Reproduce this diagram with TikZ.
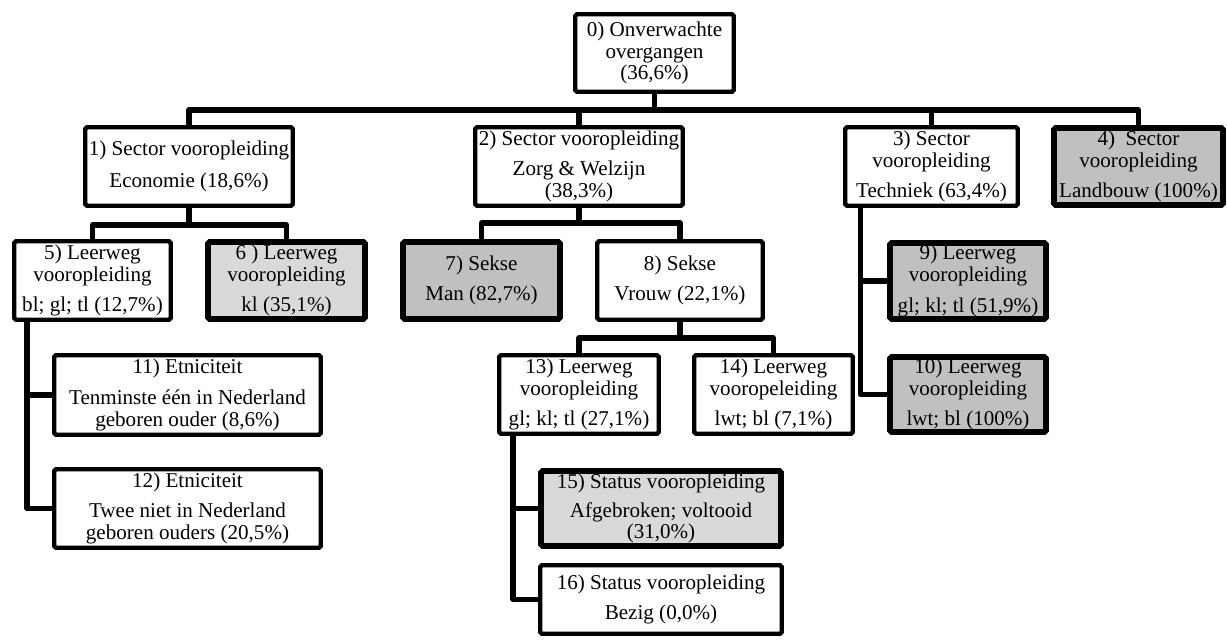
\documentclass[tikz,border=0pt]{standalone}
\usepackage{fontspec}
\setmainfont{Liberation Serif}
\usepackage{tikz}
\usetikzlibrary{positioning, calc}
\definecolor{boxgrey}{RGB}{192,192,192}
\definecolor{boxlight}{RGB}{217,217,217}

\begin{document}
\begin{tikzpicture}[
    x=0.02cm, y=-0.02cm,
    box/.style={draw=black, line width=2.5pt, fill=white, align=center, inner sep=0pt, rounded corners=1pt, font=\fontsize{12}{12.4}\selectfont},
    box_grey/.style={box, fill=boxgrey, line width=3.3pt},
    box_light/.style={box, fill=boxlight, line width=3.3pt},
    link/.style={line width=3pt, line join=round}
]
    \useasboundingbox (0,0) rectangle (1227,640);

    % Root
    \node[box, minimum width=3.17cm, minimum height=1.55cm] (root) at (654.5,53)
      {0) Onverwachte\\overgangen\\(36,6\%)};

    % Sector vooropleiding (first level)
    \node[box, minimum width=4.15cm, minimum height=1.57cm] (sec_econ) at (189,166.5)
      {1) Sector vooropleiding\\[5.5pt]Economie (18,6\%)};
    \node[box, minimum width=4.15cm, minimum height=1.57cm] (sec_zorg) at (579,166.5)
      {2) Sector vooropleiding\\[4.5pt]Zorg \& Welzijn\\(38,3\%)};
    \node[box, minimum width=3.45cm, minimum height=1.57cm] (sec_tech) at (931.5,166.5)
      {3) Sector\\vooropleiding\\[5pt]Techniek (63,4\%)};
    \node[box_grey, minimum width=3.38cm, minimum height=1.54cm] (sec_land) at (1138.5,166.5)
      {4)\ \ Sector\\vooropleiding\\[5pt]Landbouw (100\%)};

    % Economie branch
    \node[box, minimum width=3.13cm, minimum height=1.57cm] (lw_econ1) at (92.5,280.5)
      {5) Leerweg\\vooropleiding\\[5pt]bl; gl; tl (12,7\%)};
    \node[box_light, minimum width=3.14cm, minimum height=1.54cm] (lw_econ2) at (286.5,280.5)
      {6 ) Leerweg\\vooropleiding\\[5pt]kl (35,1\%)};
    \node[box, minimum width=5.33cm, minimum height=1.59cm] (etn_een) at (187.5,395)
      {11) Etniciteit\\[5pt]Tenminste één in Nederland\\geboren ouder (8,6\%)};
    \node[box, minimum width=5.33cm, minimum height=1.57cm] (etn_twee) at (187.5,508.5)
      {12) Etniciteit\\[5pt]Twee niet in Nederland\\geboren ouders (20,5\%)};

    % Zorg & Welzijn branch
    \node[box_grey, minimum width=3.14cm, minimum height=1.54cm] (sekse_man) at (481.5,280.5)
      {7) Sekse\\[5pt]Man (82,7\%)};
    \node[box, minimum width=3.31cm, minimum height=1.57cm] (sekse_vrouw) at (680,280.5)
      {8) Sekse\\[5pt]Vrouw (22,1\%)};
    \node[box, minimum width=3.19cm, minimum height=1.57cm] (lw_vrouw1) at (579,394.5)
      {13) Leerweg\\vooropleiding\\[5pt]gl; kl; tl (27,1\%)};
    \node[box, minimum width=3.17cm, minimum height=1.57cm] (lw_vrouw2) at (773.5,394.5)
      {14) Leerweg\\vooropeleiding\\[5pt]lwt; bl (7,1\%)};
    \node[box_light, minimum width=4.80cm, minimum height=1.50cm] (status_af) at (661,508.5)
      {15) Status vooropleiding\\[4pt]Afgebroken; voltooid\\(31,0\%)};
    \node[box, minimum width=4.83cm, minimum height=1.37cm] (status_bezig) at (661,599.5)
      {16) Status vooropleiding\\[5pt]Bezig (0,0\%)};

    % Techniek branch
    \node[box_grey, minimum width=3.12cm, minimum height=1.52cm] (lw_tech1) at (968,281)
      {9) Leerweg\\vooropleiding\\[5pt]gl; kl; tl (51,9\%)};
    \node[box_grey, minimum width=3.12cm, minimum height=1.50cm] (lw_tech2) at (968,394.5)
      {10) Leerweg\\vooropleiding\\[5pt]lwt; bl (100\%)};

    % Connectors - top down
    \foreach \sec in {sec_econ, sec_zorg, sec_tech, sec_land} {
      \draw[link] (root.south) -- ++(0,16) -| (\sec.north);
    }
    \foreach \lw in {lw_econ1, lw_econ2} {
      \draw[link] (sec_econ.south) -- ++(0,17) -| (\lw.north);
    }
    \foreach \sx in {sekse_man, sekse_vrouw} {
      \draw[link] (sec_zorg.south) -- ++(0,15) -| (\sx.north);
    }
    \foreach \lw in {lw_vrouw1, lw_vrouw2} {
      \draw[link] (sekse_vrouw.south) -- ++(0,16) -| (\lw.north);
    }

    % Connectors - side trunks
    \coordinate (trunk_econ) at ([xshift=0.30cm]lw_econ1.south west);
    \coordinate (trunk_tech) at ([xshift=0.35cm]sec_tech.south west);
    \coordinate (trunk_vrouw) at ([xshift=0.32cm]lw_vrouw1.south west);
    \draw[link] (trunk_econ) |- (etn_een.west);
    \draw[link] (trunk_econ) |- (etn_twee.west);
    \draw[link] (trunk_tech) |- (lw_tech1.west);
    \draw[link] (trunk_tech) |- (lw_tech2.west);
    \draw[link] (trunk_vrouw) |- (status_af.west);
    \draw[link] (trunk_vrouw) |- (status_bezig.west);

\end{tikzpicture}
\end{document}
